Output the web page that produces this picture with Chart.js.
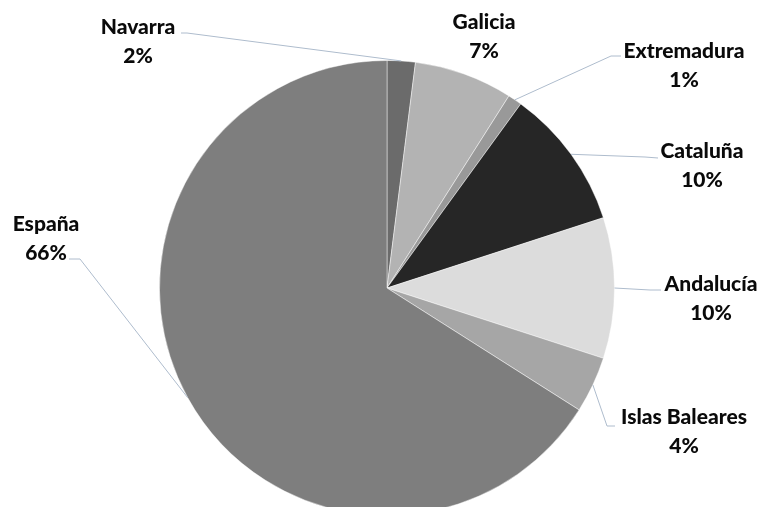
<!DOCTYPE html>
<html>
<head>
<meta charset="utf-8">
<script src="https://cdn.jsdelivr.net/npm/chart.js@4"></script>
<style>
  html, body { margin: 0; padding: 0; background: #fff; overflow: hidden; }
  #wrap { width: 764px; height: 507px; overflow: hidden; }
</style>
</head>
<body>
<div id="wrap"><canvas id="pieRegiones" width="764" height="576"></canvas></div>
<script>
// datos del gráfico
const regiones = ['Navarra', 'Galicia', 'Extremadura', 'Cataluña', 'Andalucía', 'Islas Baleares', 'España'];
const porcentajes = [2, 7, 1, 10, 10, 4, 66];
const grises = ['#6b6b6b', '#b3b3b3', '#999999', '#262626', '#dcdcdc', '#a6a6a6', '#7e7e7e'];

// posición de cada etiqueta (centro del texto) y tramo de la línea guía
const etiquetas = [
  { x: 138, y: 27, guia: [[181, 33], [187, 33]] },
  { x: 484, y: 22, guia: null },
  { x: 684, y: 51, guia: [[621, 56], [611, 56]] },
  { x: 702, y: 151, guia: [[658, 158], [645, 157]] },
  { x: 711, y: 284, guia: [[661, 290], [650, 290]] },
  { x: 684, y: 417, guia: [[615, 426], [607, 426]] },
  { x: 46, y: 224, guia: [[69, 259], [80, 259]] }
];

// plugin para las etiquetas con líneas guía
const etiquetasPlugin = {
  id: 'etiquetasPlugin',
  afterDraw(chart) {
    const ctx = chart.ctx;
    const arcs = chart.getDatasetMeta(0).data;
    ctx.save();
    arcs.forEach((arc, i) => {
      const et = etiquetas[i];
      if (et.guia) {
        const mid = (arc.startAngle + arc.endAngle) / 2;
        const ax = arc.x + Math.cos(mid) * arc.outerRadius;
        const ay = arc.y + Math.sin(mid) * arc.outerRadius;
        ctx.strokeStyle = '#aebccd';
        ctx.lineWidth = 1;
        ctx.beginPath();
        ctx.moveTo(et.guia[0][0], et.guia[0][1]);
        for (let k = 1; k < et.guia.length; k++) ctx.lineTo(et.guia[k][0], et.guia[k][1]);
        ctx.lineTo(ax, ay);
        ctx.stroke();
      }
      ctx.fillStyle = '#0a0a0a';
      ctx.font = '900 21px Lato';
      ctx.textAlign = 'center';
      ctx.textBaseline = 'middle';
      ctx.fillText(regiones[i], et.x, et.y);
      ctx.fillText(porcentajes[i] + '%', et.x, et.y + 29);
    });
    ctx.restore();
  }
};

let miGrafico = new Chart(document.getElementById('pieRegiones'), {
  type: 'pie',
  data: {
    labels: regiones,
    datasets: [{
      data: porcentajes,
      backgroundColor: grises,
      borderColor: 'rgba(255,255,255,0.45)',
      borderWidth: 1
    }]
  },
  options: {
    responsive: false,
    animation: false,
    layout: { padding: { left: 159, right: 149, top: 60, bottom: 60 } },
    plugins: {
      legend: { display: false },
      tooltip: { enabled: false }
    }
  },
  plugins: [etiquetasPlugin]
});
</script>
</body>
</html>
